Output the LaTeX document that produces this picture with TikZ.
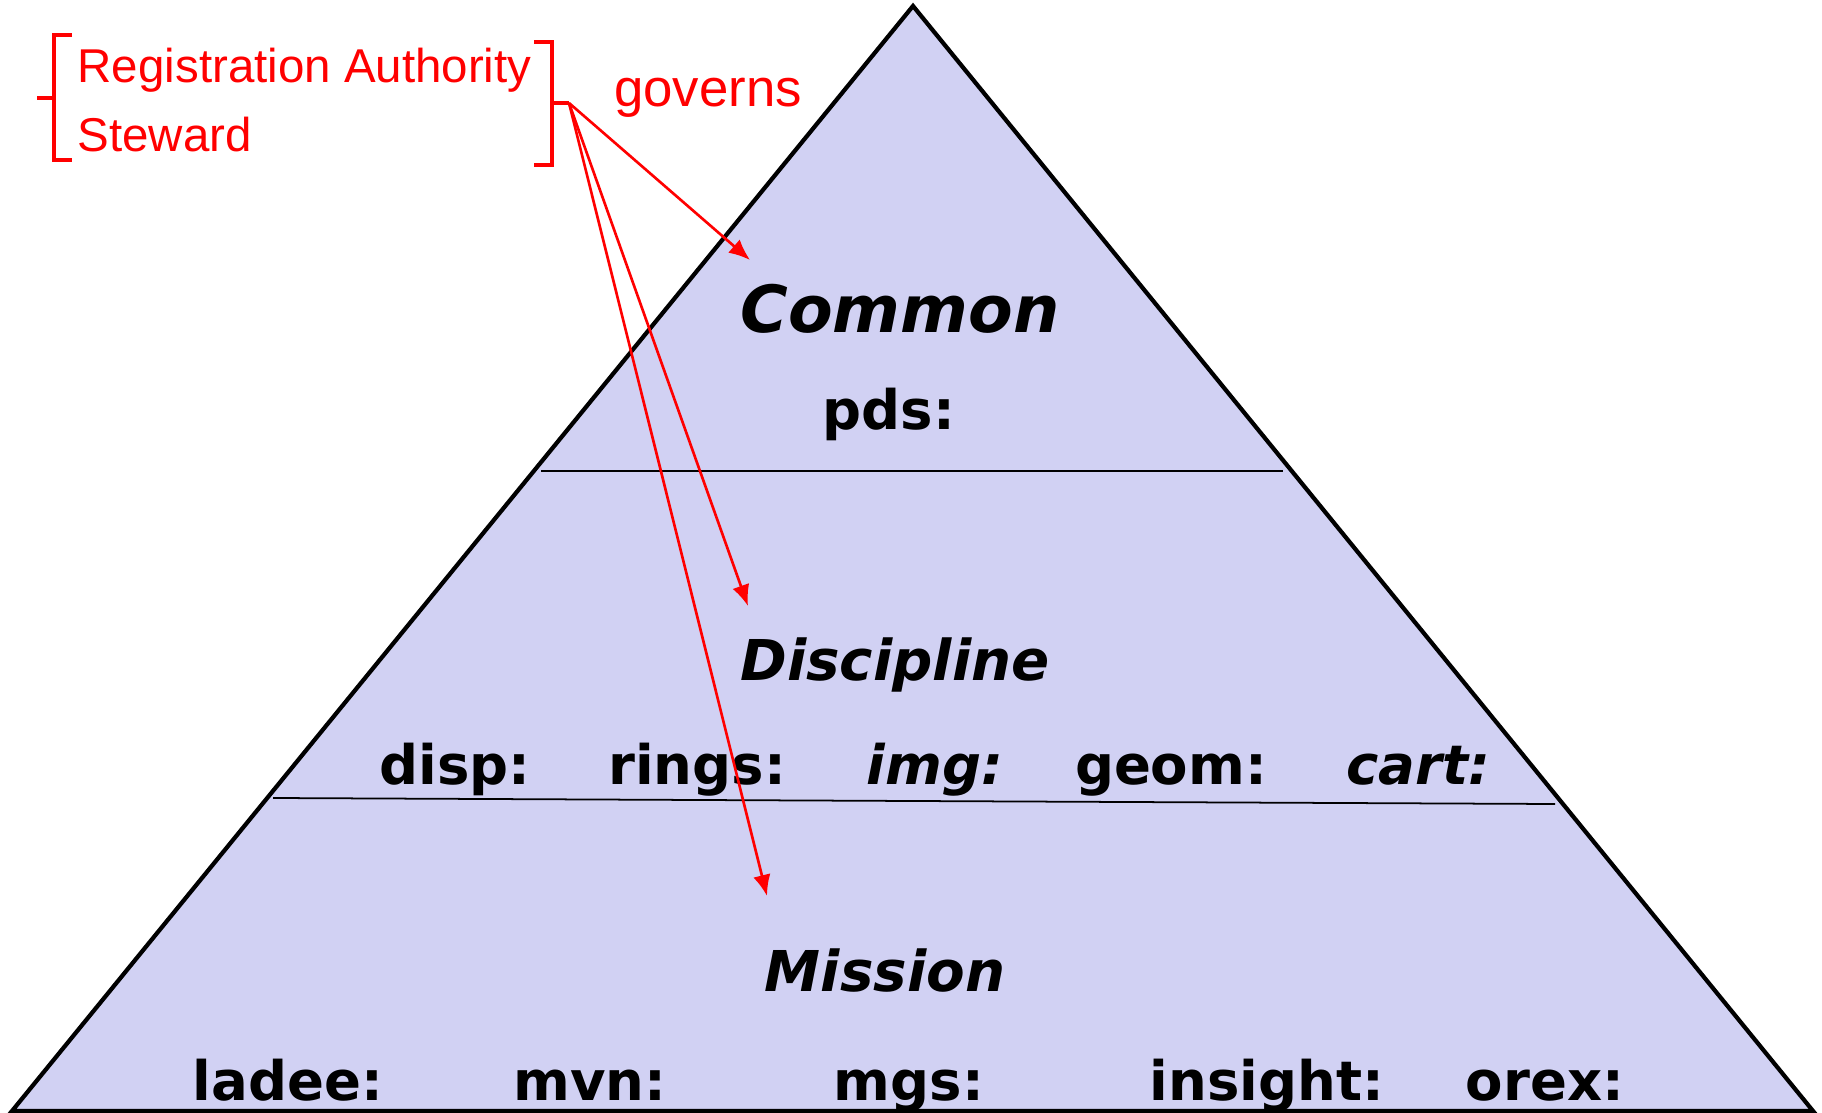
\documentclass[tikz,border=0pt]{standalone}
\usepackage{fontspec}
\setmainfont{DejaVu Sans}
\newfontfamily\rolefont{Liberation Sans}
\usetikzlibrary{arrows.meta}

\definecolor{layerfill}{RGB}{209,209,243}
\tikzstyle{layer title}=[font=\fontsize{16}{19}\selectfont\bfseries\itshape,inner sep=0pt,anchor=base]
\tikzstyle{ns label}=[font=\fontsize{15.5}{18}\selectfont\bfseries,inner sep=0pt,anchor=base]
\tikzstyle{role text}=[font=\rolefont\fontsize{13.5}{16}\selectfont,text=red,inner sep=0pt,anchor=base west]
\tikzstyle{red bracket}=[draw,red,line width=1.1pt]
\tikzstyle{govern edge}=[draw,red,line width=0.75pt,-{Latex[length=6pt,width=5pt]}]

\begin{document}
\begin{tikzpicture}[x=0.01cm,y=-0.01cm]
	\useasboundingbox (0,0) rectangle (1822,1113);
	% the pyramid and its layers
	\coordinate (apex) at (913,6);
	\coordinate (bl) at (12,1111);
	\coordinate (br) at (1813,1111);
	\draw[line width=1.2pt,fill=layerfill] (apex) -- (br) -- (bl) -- cycle;
	\draw[line width=0.5pt] (541,471) -- (1283,471);
	\draw[line width=0.5pt] (273,798) -- (1555,804);

	\node[layer title,font=\fontsize{18.5}{22}\selectfont\bfseries\itshape] (common) at (900,333) {Common};
	\node[ns label] (pds) at (889,430) {pds:};

	\node[layer title] (discipline) at (895,680) {Discipline};
	\node[ns label] (disp) at (455,784) {disp:};
	\node[ns label] (rings) at (697,784) {rings:};
	\node[ns label,font=\fontsize{15.5}{18}\selectfont\bfseries\itshape] (img) at (935,784) {img:};
	\node[ns label] (geom) at (1171,784) {geom:};
	\node[ns label,font=\fontsize{15.5}{18}\selectfont\bfseries\itshape] (cart) at (1418,784) {cart:};

	\node[layer title] (mission) at (885,991) {Mission};
	\node[ns label] (ladee) at (288,1100) {ladee:};
	\node[ns label] (mvn) at (590,1100) {mvn:};
	\node[ns label] (mgs) at (909,1100) {mgs:};
	\node[ns label] (insight) at (1267,1100) {insight:};
	\node[ns label] (orex) at (1545,1100) {orex:};

	% who governs the layers
	\node[role text] (ra) at (77,83) {Registration Authority};
	\node[role text] (steward) at (77,152) {Steward};
	\node[role text,font=\rolefont\fontsize{15}{18}\selectfont,anchor=base] (governs) at (708,107) {governs};
	\draw[red bracket] (72,35) -- (54,35) -- (54,160) -- (72,160);
	\draw[red bracket] (54,98) -- (37,98);
	\draw[red bracket] (534,42) -- (552,42) -- (552,165) -- (534,165);
	\draw[red bracket] (552,103) -- (569,103);

	\coordinate (gov) at (569,103);
	\coordinate (common tip) at (750,260);
	\coordinate (discipline tip) at (748,606);
	\coordinate (mission tip) at (767,896);
	\foreach \source/ \dest in {gov/common tip, gov/discipline tip, gov/mission tip}
		\path[govern edge] (\source) to (\dest);
\end{tikzpicture}
\end{document}
